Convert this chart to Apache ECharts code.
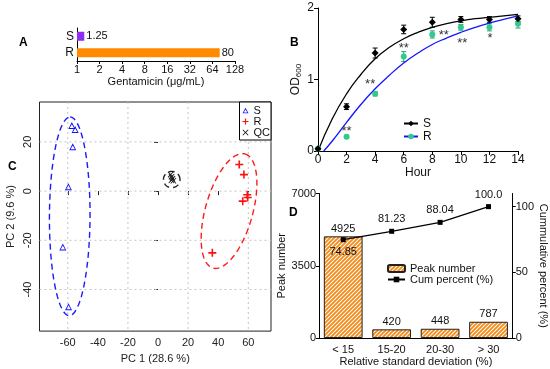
<!DOCTYPE html>
<html><head><meta charset="utf-8">
<script src="https://cdn.jsdelivr.net/npm/echarts@6/dist/echarts.min.js"></script>
<style>html,body{margin:0;padding:0;background:#fff}#c{width:550px;height:369px}</style>
</head><body><div id="c"></div>
<script>
// ---------- Panel A ----------
const micCats = ['S', 'R'];
const micValues = [1.25, 80];
// ---------- Panel B ----------
const hours = [0, 2, 4, 6, 8, 10, 12, 14];
const odS = [0.03, 0.62, 1.37, 1.70, 1.80, 1.84, 1.84, 1.85];
const odSErr = [0.01, 0.04, 0.07, 0.06, 0.07, 0.04, 0.04, 0.04];
const odR = [0.03, 0.20, 0.80, 1.32, 1.63, 1.73, 1.73, 1.78];
const odRErr = [0.01, 0.02, 0.03, 0.07, 0.05, 0.04, 0.05, 0.06];
const fitSHours = [0, 1, 2, 3, 4, 5, 6, 7, 8, 9, 10, 11, 12, 13, 14];
const fitS = [0, 0.45, 0.80, 1.07, 1.29, 1.45, 1.57, 1.66, 1.73, 1.78, 1.82, 1.85, 1.87, 1.89, 1.91];
const fitRHours = [0.4, 1, 2, 3, 4, 5, 6, 7, 8, 9, 10, 11, 12, 13, 14];
const fitR = [0, 0.14, 0.40, 0.65, 0.87, 1.06, 1.23, 1.37, 1.49, 1.58, 1.66, 1.73, 1.79, 1.84, 1.89];
const starHours = [2, 3.65, 6, 8.8, 10.1, 12.05];
const starOD = [0.31, 0.97, 1.48, 1.66, 1.55, 1.62];
const starText = ['**', '**', '**', '**', '**', '*'];
// ---------- Panel C ----------
const sPC1 = [-57.3, -55.1, -56.7, -59.6, -63.3, -59.5];
const sPC2 = [26.6, 25.0, 18.0, 1.8, -22.7, -47.0];
const rPC1 = [54.0, 57.1, 59.3, 59.6, 56.3, 36.1];
const rPC2 = [10.8, 6.7, -1.5, -2.6, -4.1, -25.1];
const qcPC1 = [8.4, 9.0, 9.6, 10.2, 8.9];
const qcPC2 = [6.7, 5.8, 5.0, 4.2, 4.4];
// ellipse: centre x, centre y, axis-1 (x,y), axis-2 (x,y) in data units
const ellipseS = [-58.7, -10.25, 0.3, 40.35, 13.5, 0];
const ellipseR = [47.2, -8.1, 10.6, 23.2, 15.2, -2.5];
const ellipseQC = [9.1, 4.7, 5.5, 0, 0, 3.3];
const pc1Ticks = [-60, -40, -20, 0, 20, 40, 60];
const pc2Ticks = [-40, -20, 0, 20];
const pc1Grid = [-60, -20, 20, 60];
const pc2Grid = [20, 0, -20, -40];
// ---------- Panel D ----------
const rsdCats = ['< 15', '15-20', '20-30', '> 30'];
const peakNumbers = [4925, 420, 448, 787];
const cumPercent = [74.85, 81.23, 88.04, 100.0];
const cumLabels = ['74.85', '81.23', '88.04', '100.0'];
const cumTicks = [0, 50, 100];

const FONT = 'Arial, "Liberation Sans", sans-serif';
const TXT = '#111';

function hatch() {
  const c = document.createElement('canvas');
  c.width = 4; c.height = 4;
  const g = c.getContext('2d');
  g.fillStyle = '#fff'; g.fillRect(0, 0, 4, 4);
  g.strokeStyle = '#F28C1A'; g.lineWidth = 1.9;
  g.beginPath();
  g.moveTo(0, 4); g.lineTo(4, 0);
  g.moveTo(-1, 1); g.lineTo(1, -1);
  g.moveTo(3, 5); g.lineTo(5, 3);
  g.stroke();
  return c;
}
const hatchFill = { image: hatch(), repeat: 'repeat' };

function ellipseRender(params, api) {
  const cx = api.value(0), cy = api.value(1), ux = api.value(2), uy = api.value(3), vx = api.value(4), vy = api.value(5);
  const pts = [];
  for (let k = 0; k <= 120; k++) {
    const t = k / 120 * 2 * Math.PI;
    pts.push(api.coord([cx + ux * Math.cos(t) + vx * Math.sin(t), cy + uy * Math.cos(t) + vy * Math.sin(t)]));
  }
  return { type: 'polyline', shape: { points: pts }, style: { stroke: api.visual('color'), fill: null, lineWidth: 1.4, lineDash: [6, 4] } };
}
function errRender(params, api) {
  const x = api.value(0), y = api.value(1), e = api.value(2);
  const t = api.coord([x, y + e]), b = api.coord([x, y - e]);
  const w = 2.5, col = api.visual('color');
  const st = { stroke: col, lineWidth: 1 };
  return { type: 'group', children: [
    { type: 'line', shape: { x1: t[0], y1: t[1], x2: b[0], y2: b[1] }, style: st },
    { type: 'line', shape: { x1: t[0] - w, y1: t[1], x2: t[0] + w, y2: t[1] }, style: st },
    { type: 'line', shape: { x1: b[0] - w, y1: b[1], x2: b[0] + w, y2: b[1] }, style: st }
  ] };
}
function starRender(params, api) {
  const p = api.coord([api.value(0), api.value(1)]);
  return { type: 'text', x: p[0], y: p[1] + 3, style: { text: starText[params.dataIndex], fill: '#333', font: '13px ' + FONT, align: 'center', verticalAlign: 'middle' } };
}
// grid line: value 0 = axis value, value 1 = 0 for vertical (x), 1 for horizontal (y)
function gridRender(params, api) {
  const cs = params.coordSys, v = api.value(0), horiz = api.value(1) === 1;
  const st = { stroke: '#c4c4c4', lineWidth: 1, lineDash: [2, 3] };
  if (horiz) {
    const y = api.coord([0, v])[1];
    return { type: 'line', shape: { x1: cs.x, y1: y, x2: cs.x + cs.width, y2: y }, style: st, silent: true };
  }
  const x = api.coord([v, 0])[0];
  return { type: 'line', shape: { x1: x, y1: cs.y, x2: x, y2: cs.y + cs.height }, style: st, silent: true };
}

const PLUS = 'path://M0,4 L10,4 L10,6 L0,6 Z M4,0 L6,0 L6,10 L4,10 Z';
const CROSS = 'path://M1,0 L5,4 L9,0 L10,1 L6,5 L10,9 L9,10 L5,6 L1,10 L0,9 L4,5 L0,1 Z';
const TRI = 'path://M5,0 L10,9 L0,9 Z M5,2.7 L1.9,7.7 L8.1,7.7 Z';

const lbl = { fontSize: 11, color: TXT, fontFamily: FONT };

const chart = echarts.init(document.getElementById('c'), null, { renderer: 'canvas' });
chart.setOption({
  animation: false,
  textStyle: { fontFamily: FONT },
  grid: [
    { left: 77, top: 28, width: 158, height: 33 },
    { left: 318, top: 8, width: 200, height: 143 },
    { left: 39.5, top: 102, width: 231.5, height: 234, show: true, borderColor: '#222', borderWidth: 1 },
    { left: 319, top: 193.5, width: 196.5, height: 144.5 }
  ],
  xAxis: [
    { gridIndex: 0, type: 'log', logBase: 2, min: 1, max: 128,
      axisLine: { show: true, lineStyle: { color: '#000' } }, axisTick: { show: true, length: 3, lineStyle: { color: '#000' } },
      axisLabel: Object.assign({ margin: 3 }, lbl), splitLine: { show: false }, minorTick: { show: false },
      name: 'Gentamicin (μg/mL)', nameLocation: 'middle', nameGap: 15, nameTextStyle: lbl },
    { gridIndex: 1, type: 'value', min: 0, max: 14, interval: 2,
      axisLine: { show: true, lineStyle: { color: '#000' } }, axisTick: { show: true, length: 4, lineStyle: { color: '#000' } },
      axisLabel: Object.assign({}, lbl, { fontSize: 12, margin: 3 }), splitLine: { show: false },
      name: 'Hour', nameLocation: 'middle', nameGap: 14, nameTextStyle: Object.assign({}, lbl, { fontSize: 12 }) },
    { gridIndex: 2, type: 'value', min: -78.8, max: 75.1,
      axisLine: { show: false }, axisTick: { show: true, customValues: pc1Ticks, length: 4, lineStyle: { color: '#222' } },
      axisLabel: Object.assign({ customValues: pc1Ticks, margin: 6 }, lbl, { color: '#222' }), splitLine: { show: false },
      name: 'PC 1 (28.6 %)', nameLocation: 'middle', nameGap: 17, nameTextStyle: Object.assign({}, lbl, { color: '#222' }) },
    { gridIndex: 3, type: 'category', data: rsdCats,
      axisLine: { show: true, lineStyle: { color: '#000' } }, axisTick: { show: false },
      axisLabel: Object.assign({ margin: 6 }, lbl), splitLine: { show: false },
      name: 'Relative standard deviation (%)', nameLocation: 'middle', nameGap: 18, nameTextStyle: lbl }
  ],
  yAxis: [
    { gridIndex: 0, type: 'category', data: micCats, inverse: true,
      axisLine: { show: true, lineStyle: { color: '#000' } }, axisTick: { show: false },
      axisLabel: Object.assign({ margin: 3 }, lbl, { fontSize: 12 }) },
    { gridIndex: 1, type: 'value', min: 0, max: 2, interval: 1,
      axisLine: { show: true, lineStyle: { color: '#000' } }, axisTick: { show: true, length: 4, lineStyle: { color: '#000' } },
      axisLabel: Object.assign({}, lbl, { fontSize: 12, margin: 4 }), splitLine: { show: false },
      name: 'OD{sub|600}', nameLocation: 'middle', nameGap: 15,
      nameTextStyle: { fontSize: 12, color: TXT, fontFamily: FONT, lineHeight: 14, rich: { sub: { fontSize: 8, color: TXT, verticalAlign: 'bottom', lineHeight: 14, padding: [6, 0, 0, 0] } } } },
    { gridIndex: 2, type: 'value', min: -56.9, max: 36.2,
      axisLine: { show: false }, axisTick: { show: true, customValues: pc2Ticks, length: 4, lineStyle: { color: '#222' } },
      axisLabel: Object.assign({ customValues: pc2Ticks, rotate: 90, margin: 6 }, lbl, { color: '#222' }), splitLine: { show: false },
      name: 'PC 2 (9.6 %)', nameLocation: 'middle', nameGap: 23, nameTextStyle: Object.assign({}, lbl, { color: '#222' }) },
    { gridIndex: 3, type: 'value', min: 0, max: 7000, interval: 3500,
      axisLine: { show: true, lineStyle: { color: '#000' } }, axisTick: { show: true, length: 3, lineStyle: { color: '#000' } },
      axisLabel: Object.assign({ margin: 3, formatter: v => String(v) }, lbl), splitLine: { show: false },
      name: 'Peak number', nameLocation: 'middle', nameGap: 24, nameTextStyle: lbl },
    { gridIndex: 3, type: 'value', position: 'right', min: 0, max: 110,
      axisLine: { show: true, lineStyle: { color: '#000' } }, axisTick: { show: true, customValues: cumTicks, length: 3, lineStyle: { color: '#000' } },
      axisLabel: Object.assign({ customValues: cumTicks, margin: 3 }, lbl), splitLine: { show: false },
      name: 'Cummulative percent (%)', nameLocation: 'middle', nameGap: 20, nameRotate: -90, nameTextStyle: lbl }
  ],
  legend: [
    { data: ['S', 'R'], left: 403, top: 117, orient: 'vertical', itemWidth: 14, itemHeight: 7, itemGap: 0, padding: 0,
      textStyle: { fontSize: 12, color: TXT, lineHeight: 13 } },
    { data: ['S ', 'R ', 'QC '], right: 279, top: 102, orient: 'vertical', itemWidth: 6, itemHeight: 6, itemGap: 0,
      padding: [3, 1, 2, 3], borderColor: '#000', borderWidth: 1, backgroundColor: '#fff',
      formatter: n => n.trim(), textStyle: { fontSize: 11, color: TXT, lineHeight: 10 } },
    { data: ['Peak number', 'Cum percent (%)'], left: 387, top: 263, orient: 'vertical', itemWidth: 17, itemHeight: 7, itemGap: 0, padding: 0,
      textStyle: { fontSize: 11, color: TXT, lineHeight: 11 } }
  ],
  graphic: [
    { type: 'text', left: 19, top: 37, style: { text: 'A', font: 'bold 12px ' + FONT, fill: '#000' } },
    { type: 'text', left: 290, top: 37, style: { text: 'B', font: 'bold 12px ' + FONT, fill: '#000' } },
    { type: 'text', left: 8, top: 161, style: { text: 'C', font: 'bold 12px ' + FONT, fill: '#000' } },
    { type: 'text', left: 289, top: 207, style: { text: 'D', font: 'bold 12px ' + FONT, fill: '#000' } }
  ],
  series: [
    // A
    { type: 'bar', xAxisIndex: 0, yAxisIndex: 0, barWidth: 9,
      data: micValues.map((v, i) => ({ value: v, itemStyle: { color: i === 0 ? '#8E2EF2' : '#FF8A00' } })),
      label: { show: true, position: 'right', distance: 2, fontSize: 11, color: TXT } },
    // B
    { name: 'S', type: 'line', xAxisIndex: 1, yAxisIndex: 1, data: fitSHours.map((h, i) => [h, fitS[i]]), smooth: true,
      showSymbol: false, symbol: 'diamond', symbolSize: 7, itemStyle: { color: '#000' }, lineStyle: { color: '#000', width: 1.3 } },
    { name: 'R', type: 'line', xAxisIndex: 1, yAxisIndex: 1, data: fitRHours.map((h, i) => [h, fitR[i]]), smooth: true,
      showSymbol: false, symbol: 'circle', symbolSize: 7, itemStyle: { color: '#2ECB8C' }, lineStyle: { color: '#1414FF', width: 1.3 } },
    { type: 'custom', xAxisIndex: 1, yAxisIndex: 1, renderItem: errRender, itemStyle: { color: '#2a9d70' },
      data: hours.map((h, i) => [h, odR[i], odRErr[i]]), z: 3 },
    { type: 'custom', xAxisIndex: 1, yAxisIndex: 1, renderItem: errRender, itemStyle: { color: '#000' },
      data: hours.map((h, i) => [h, odS[i], odSErr[i]]), z: 3 },
    { name: 'R pts', type: 'scatter', xAxisIndex: 1, yAxisIndex: 1, symbol: 'circle', symbolSize: 6,
      itemStyle: { color: '#2ECB8C', opacity: 1 }, data: hours.map((h, i) => [h, odR[i]]), z: 4 },
    { name: 'S pts', type: 'scatter', xAxisIndex: 1, yAxisIndex: 1, symbol: 'diamond', symbolSize: 7,
      itemStyle: { color: '#000', opacity: 1 }, data: hours.map((h, i) => [h, odS[i]]), z: 5 },
    { type: 'custom', xAxisIndex: 1, yAxisIndex: 1, renderItem: starRender, data: starHours.map((h, i) => [h, starOD[i]]), z: 6 },
    // C
    { type: 'custom', xAxisIndex: 2, yAxisIndex: 2, renderItem: gridRender, silent: true, z: 1,
      data: pc1Grid.map(v => [v, 0]).concat(pc2Grid.map(v => [v, 1])) },
    { type: 'custom', xAxisIndex: 2, yAxisIndex: 2, renderItem: ellipseRender, itemStyle: { color: '#1a1aff' }, data: [ellipseS], z: 3 },
    { type: 'custom', xAxisIndex: 2, yAxisIndex: 2, renderItem: ellipseRender, itemStyle: { color: '#ff1a1a' }, data: [ellipseR], z: 3 },
    { type: 'custom', xAxisIndex: 2, yAxisIndex: 2, renderItem: ellipseRender, itemStyle: { color: '#222' }, data: [ellipseQC], z: 3 },
    { name: 'S ', type: 'scatter', xAxisIndex: 2, yAxisIndex: 2, symbol: TRI, symbolSize: 7,
      itemStyle: { color: '#1010ff', opacity: 1 }, data: sPC1.map((x, i) => [x, sPC2[i]]), z: 4 },
    { name: 'R ', type: 'scatter', xAxisIndex: 2, yAxisIndex: 2, symbol: PLUS, symbolSize: 8,
      itemStyle: { color: '#ff1010', opacity: 1 }, data: rPC1.map((x, i) => [x, rPC2[i]]), z: 4 },
    { name: 'QC ', type: 'scatter', xAxisIndex: 2, yAxisIndex: 2, symbol: CROSS, symbolSize: 6,
      itemStyle: { color: '#111', opacity: 1 }, data: qcPC1.map((x, i) => [x, qcPC2[i]]), z: 4 },
    // D
    { name: 'Peak number', type: 'bar', xAxisIndex: 3, yAxisIndex: 3, barWidth: '80%', data: peakNumbers,
      itemStyle: { color: hatchFill, borderColor: '#222', borderWidth: 1 },
      label: { show: true, position: 'top', distance: 2, fontSize: 11, color: TXT } },
    { name: 'Cum percent (%)', type: 'line', xAxisIndex: 3, yAxisIndex: 4, symbol: 'rect', symbolSize: 5,
      itemStyle: { color: '#000' }, lineStyle: { color: '#000', width: 1.2 },
      data: cumPercent.map((v, i) => ({ value: v, label: { position: i === 0 ? 'bottom' : 'top' } })),
      label: { show: true, distance: 4, fontSize: 11, color: TXT, formatter: p => cumLabels[p.dataIndex] }, z: 5 }
  ]
});
</script></body></html>
